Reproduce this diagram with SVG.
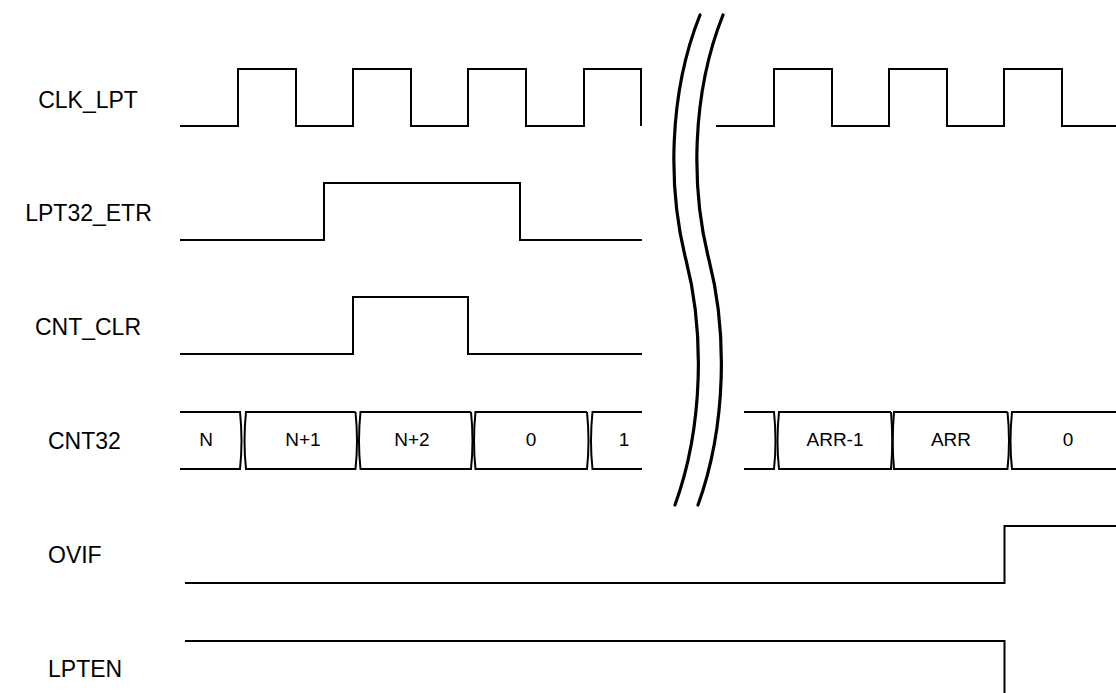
<svg xmlns="http://www.w3.org/2000/svg" width="1116" height="693" viewBox="0 0 1116 693">
<style>
.sig{fill:none;stroke:#000;stroke-width:2;stroke-linejoin:miter}
.brk{fill:none;stroke:#000;stroke-width:3.2;stroke-linecap:round}
.lbl{font-family:"Liberation Sans",Arial,sans-serif;font-size:23px;fill:#000}
.mid{text-anchor:middle}
.val{font-family:"Liberation Sans",Arial,sans-serif;font-size:19px;fill:#000;text-anchor:middle}
</style>
<rect width="1116" height="693" fill="#fff"/>
<g id="labels">
<text class="lbl mid" x="88" y="108">CLK_LPT</text>
<text class="lbl mid" x="88.5" y="221">LPT32_ETR</text>
<text class="lbl mid" x="88" y="335">CNT_CLR</text>
<text class="lbl" x="48" y="449">CNT32</text>
<text class="lbl" x="48" y="563">OVIF</text>
<text class="lbl" x="48" y="677">LPTEN</text>
</g>
<g id="clk_lpt">
<path class="sig" d="M180,126 H238 V69 H296 V126 H353 V69 H411 V126 H468 V69 H526 V126 H584 V69 H641 V126"/>
<path class="sig" d="M716,126 H774 V69 H832 V126 H889 V69 H947 V126 H1004 V69 H1062 V126 H1116"/>
</g>
<g id="lpt32_etr">
<path class="sig" d="M180,240 H324 V183 H520 V240 H642"/>
</g>
<g id="cnt_clr">
<path class="sig" d="M180,354 H353 V297 H468 V354 H642"/>
</g>
<g id="cnt32">
<path class="sig" d="M180,412 H240 Q243,441 240,469 H180"/>
<path class="sig" d="M355.5,412 H246 Q243,441 246,469 H355.5 Q358.5,441 355.5,412"/>
<path class="sig" d="M471,412 H360.5 Q357.5,441 360.5,469 H471 Q474,441 471,412"/>
<path class="sig" d="M587,412 H475.5 Q472.5,441 475.5,469 H587 Q590,441 587,412"/>
<path class="sig" d="M642,412 H592.5 Q589.5,441 592.5,469 H642"/>
<path class="sig" d="M744,412 H774 Q777,441 774,469 H744"/>
<path class="sig" d="M891,412 H779 Q776,441 779,469 H891 Q893.5,441 891,412"/>
<path class="sig" d="M1007.5,412 H894 Q891.5,441 894,469 H1007.5 Q1010.5,441 1007.5,412"/>
<path class="sig" d="M1116,412 H1012 Q1009,441 1012,469 H1116"/>
<text class="val" x="206" y="446">N</text>
<text class="val" x="303" y="446">N+1</text>
<text class="val" x="412" y="446">N+2</text>
<text class="val" x="531" y="446">0</text>
<text class="val" x="624" y="446">1</text>
<text class="val" x="835" y="446">ARR-1</text>
<text class="val" x="951" y="446">ARR</text>
<text class="val" x="1068" y="446">0</text>
</g>
<g id="ovif">
<path class="sig" d="M185,583 H1004.5 V526 H1116"/>
</g>
<g id="lpten">
<path class="sig" d="M185,641 H1004.5 V693"/>
</g>
<g id="break">
<path class="brk" d="M700,15 C668,95 668,190 686,260 C704,330 704,425 675,505"/>
<path class="brk" d="M723,15 C691,95 691,190 709,260 C727,330 727,425 698,505"/>
</g>
</svg>
